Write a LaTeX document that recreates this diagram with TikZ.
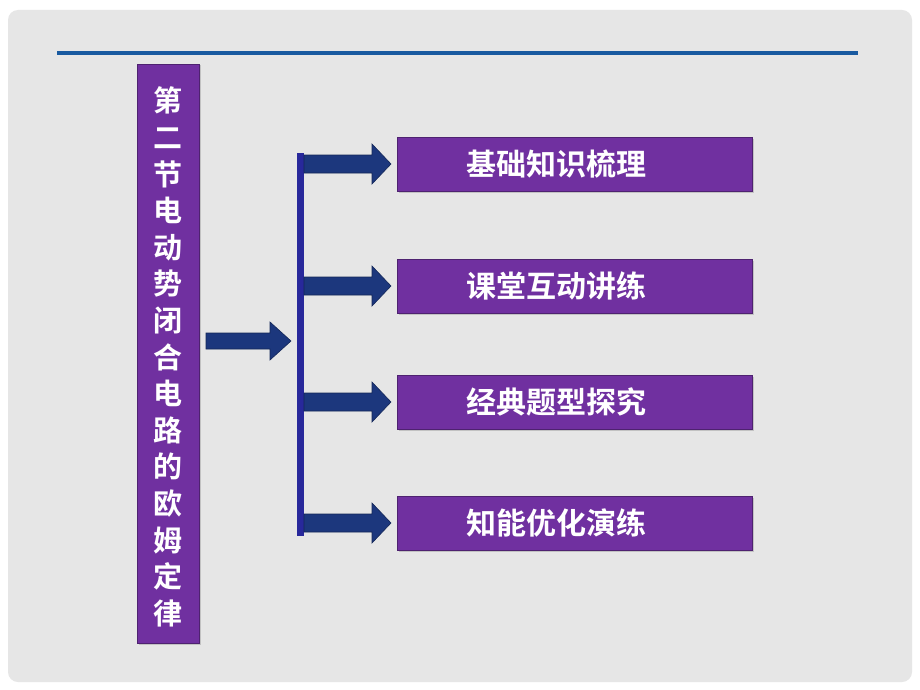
\documentclass[tikz,border=0pt]{standalone}
\usepackage{fontspec}
\newfontfamily\cjk{Noto Sans CJK SC}[BoldFont={Noto Sans CJK SC Bold}]
\definecolor{panel}{RGB}{230,230,230}
\definecolor{topline}{RGB}{25,90,160}
\definecolor{boxpurple}{RGB}{112,48,160}
\definecolor{arrowblue}{RGB}{28,55,125}
\definecolor{barblue}{RGB}{40,40,155}
\tikzset{
  x=1pt,y=-1pt,
  pbox/.style={fill=boxpurple,draw=boxpurple!70!black,line width=0.8pt,
    drop shadow={opacity=0.35,shadow xshift=1.5pt,shadow yshift=-1.5pt}},
  blockarrow/.style={fill=arrowblue,draw=arrowblue!70!black,line width=0.6pt},
  ptext/.style={text=white,font=\cjk\bfseries\fontsize{30}{34}\selectfont},
  vtext/.style={text=white,font=\cjk\bfseries\fontsize{29}{36.6}\selectfont,align=center}
}
\usetikzlibrary{shadows}
\begin{document}
\begin{tikzpicture}
\useasboundingbox (0,0) rectangle (920,690);
\fill[white] (0,0) rectangle (920,690);
\fill[panel,rounded corners=10pt] (8,10) rectangle (912,682);
\draw[topline,line width=4pt] (57,53) -- (858,53);
% left vertical box
\draw[pbox] (137,64) rectangle (199,643);
\node[vtext] (title) at (168,357) {第\\二\\节\\电\\动\\势\\闭\\合\\电\\路\\的\\欧\\姆\\定\\律};
% big arrow
\draw[blockarrow] (206,333) -- (270,333) -- (270,322) -- (291,341) -- (270,360) -- (270,349) -- (206,349) -- cycle;
% vertical bar
\fill[barblue] (297,153) rectangle (304,536);
\coordinate (bartop) at (300,153);
% small arrows and boxes
\foreach \y/\t/\n in {164/基础知识梳理/a, 286/课堂互动讲练/b, 402/经典题型探究/c, 523/知能优化演练/d}{
  \draw[blockarrow] (304,\y-9) -- (372,\y-9) -- (372,\y-20) -- (391,\y) -- (372,\y+20) -- (372,\y+9) -- (304,\y+9) -- cycle;
  \draw[pbox] (397,\y-27) rectangle (752,\y+27);
  \node[ptext] (\n) at (556,\y) {\t};
}
\end{tikzpicture}
\end{document}
